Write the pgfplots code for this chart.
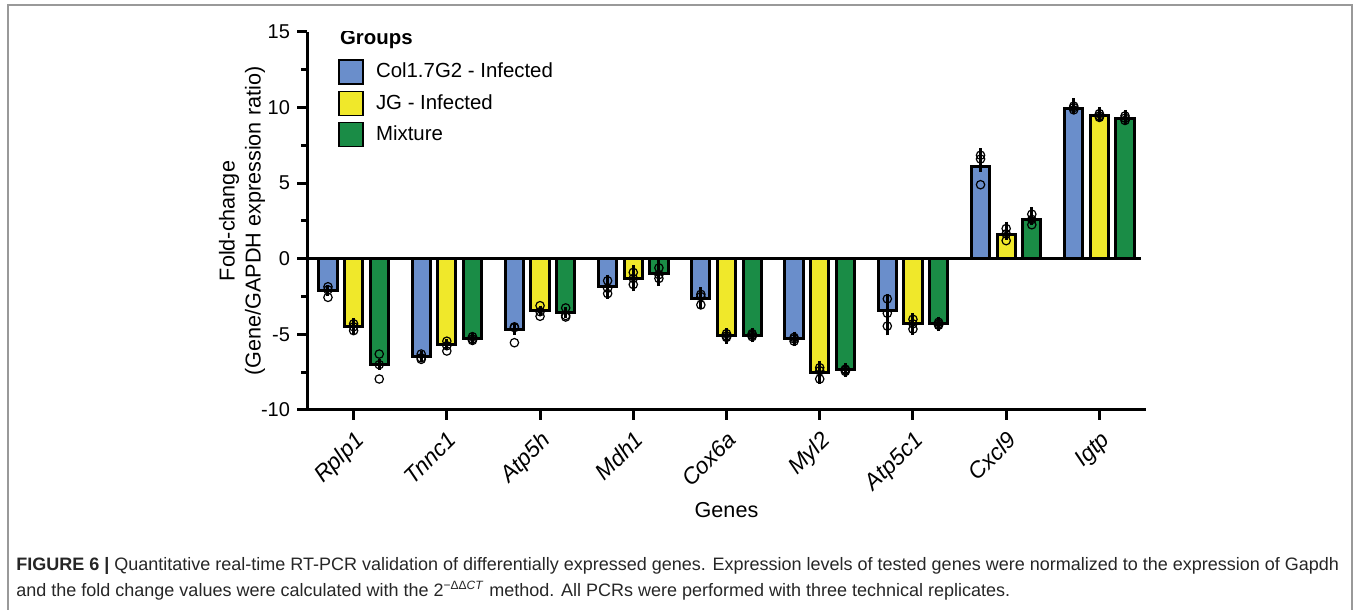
\documentclass[border=0pt]{standalone}
\usepackage{fontspec}
\setmainfont{Liberation Sans}
\usepackage{pgfplots}
\usepackage{pgfplotstable}
\pgfplotsset{compat=1.18}

\definecolor{cblue}{HTML}{6A8ECB}
\definecolor{cyellow}{HTML}{F0E82A}
\definecolor{cgreen}{HTML}{1A8C46}

% bar means with error (plus / minus)
\pgfplotstableread{
x y ep em
0 -2.10 0 0
1 -6.45 0 0
2 -4.70 0 0
3 -1.85 0.45 0.45
4 -2.60 0.35 0.35
5 -5.30 0.12 0.12
6 -3.40 0.70 1.30
7 6.10 0.85 0
8 9.95 0.30 0
}\colblue
\pgfplotstableread{
x y ep em
0 -4.50 0.20 0.20
1 -5.65 0 0
2 -3.45 0 0
3 -1.30 0.50 0.50
4 -5.10 0.15 0.15
5 -7.50 0.40 0.40
6 -4.30 0.35 0.35
7 1.60 0.50 0
8 9.45 0.20 0
}\jgyellow
\pgfplotstableread{
x y ep em
0 -7.00 0 0
1 -5.25 0 0
2 -3.55 0 0
3 -0.95 0.50 0.50
4 -5.05 0.12 0.12
5 -7.35 0.10 0.10
6 -4.30 0.12 0.12
7 2.60 0.45 0
8 9.30 0.20 0
}\mixgreen

% replicate points
\pgfplotstableread{
x y
0 -1.85
0 -2.05
0 -2.55
1 -6.30
1 -6.55
1 -6.65
2 -4.50
2 -4.55
2 -5.55
3 -1.45
3 -1.95
3 -2.30
4 -2.35
4 -2.50
4 -3.05
5 -5.20
5 -5.30
5 -5.45
6 -2.65
6 -3.60
6 -4.45
7 4.90
7 6.60
7 6.85
8 9.85
8 10.00
8 10.10
}\colbluepts
\pgfplotstableread{
x y
0 -4.30
0 -4.50
0 -4.75
1 -5.45
1 -5.75
1 -6.10
2 -3.10
2 -3.50
2 -3.80
3 -0.90
3 -1.30
3 -1.70
4 -4.95
4 -5.10
4 -5.20
5 -7.20
5 -7.40
5 -7.95
6 -4.00
6 -4.30
6 -4.65
7 1.20
7 1.65
7 2.00
8 9.35
8 9.45
8 9.60
}\jgyellowpts
\pgfplotstableread{
x y
0 -6.30
0 -7.00
0 -7.95
1 -5.15
1 -5.30
1 -5.40
2 -3.25
2 -3.75
2 -3.85
3 -0.60
3 -1.05
3 -1.30
4 -4.95
4 -5.05
4 -5.15
5 -7.30
5 -7.35
5 -7.45
6 -4.20
6 -4.30
6 -4.40
7 2.25
7 2.60
7 2.95
8 9.15
8 9.30
8 9.45
}\mixgreenpts

\pgfplotsset{
  barstyle/.style={ybar, bar width=0.195, bar shift=0pt, draw=black, line width=1.5pt,
    error bars/y dir=both, error bars/y explicit,
    error bars/error bar style={line width=1.5pt, black},
    error bars/error mark options={line width=1.5pt, mark size=2.7pt, black}},
  ptstyle/.style={only marks, mark=o, mark size=2.1pt,
    mark options={line width=0.6pt, draw=black, fill=none}},
}

\begin{document}
\begin{tikzpicture}
\path[use as bounding box] (0,0) rectangle (678.5pt,305pt);
\draw[black!40, line width=0.6pt] (4pt,-2pt) -- (4pt,302.5pt) -- (676pt,302.5pt) -- (676pt,-2pt);

\begin{axis}[
  at={(153.5pt,100pt)}, anchor=south west,
  scale only axis, width=419.5pt, height=189pt,
  xmin=-0.5, xmax=8.5, ymin=-10, ymax=15,
  axis x line*=bottom, axis y line*=left,
  axis line style={line width=1.5pt},
  xtick={0,...,8},
  xticklabels={Rplp1,Tnnc1,Atp5h,Mdh1,Cox6a,Myl2,Atp5c1,Cxcl9,Igtp},
  ytick={-10,-5,0,5,10,15},
  minor ytick={-7.5,-2.5,2.5,7.5,12.5},
  tick align=outside,
  major tick length=5pt, minor tick length=3pt,
  every tick/.style={line width=1.5pt, black},
  tick label style={font=\fontsize{10}{12}\selectfont},
  /pgf/number format/assume math mode=true,
  xticklabel style={rotate=45, anchor=north east, font=\fontsize{11.4}{13}\selectfont\itshape},
  xlabel={Genes},
  xlabel style={at={(axis description cs:0.5,0)}, anchor=center, yshift=-50pt, font=\fontsize{10.8}{13}\selectfont},
  ylabel={Fold-change\\(Gene/GAPDH expression ratio)},
  ylabel style={align=center, at={(axis description cs:-0.0775,0.5)}, anchor=center, font=\fontsize{10.8}{13}\selectfont},
  legend style={at={(0.037,0.9286)}, anchor=north west, draw=none, fill=none,
    inner sep=0pt, row sep=3pt, font=\fontsize{10.2}{12}\selectfont,
    nodes={inner sep=0pt}},
  legend cell align=left,
  legend image code/.code={\draw[#1, draw=black, line width=0.6pt] (0pt,-6pt) rectangle (12pt,6pt);
    \path[draw=none, fill=none] (0pt,0pt) -- (18.5pt,0pt);},
]
\addplot[barstyle, fill=cblue] table[x expr=\thisrow{x}-0.275, y=y, y error plus=ep, y error minus=em] {\colblue};
\addlegendentry{Col1.7G2 - Infected}
\addplot[barstyle, fill=cyellow] table[x expr=\thisrow{x}, y=y, y error plus=ep, y error minus=em] {\jgyellow};
\addlegendentry{JG - Infected}
\addplot[barstyle, fill=cgreen] table[x expr=\thisrow{x}+0.275, y=y, y error plus=ep, y error minus=em] {\mixgreen};
\addlegendentry{Mixture}
\addplot[black, line width=1.5pt, forget plot] coordinates {(-0.5,0) (8.45,0)};
\addplot[ptstyle, forget plot] table[x expr=\thisrow{x}-0.275, y=y] {\colbluepts};
\addplot[ptstyle, forget plot] table[x expr=\thisrow{x}, y=y] {\jgyellowpts};
\addplot[ptstyle, forget plot] table[x expr=\thisrow{x}+0.275, y=y] {\mixgreenpts};
\node[anchor=west, inner sep=0pt, font=\fontsize{10.2}{12}\selectfont\bfseries] at (axis description cs:0.039,0.979) {Groups};
\end{axis}

\node[anchor=base west, align=left, font=\fontsize{9}{13}\selectfont, text=black!85, inner sep=0pt] at (8pt,6.5pt)
{\textbf{FIGURE 6 |} Quantitative real-time RT-PCR validation of differentially expressed genes. Expression levels of tested genes were normalized to the expression of Gapdh\\
and the fold change values were calculated with the 2\textsuperscript{−ΔΔ\textit{CT}} method. All PCRs were performed with three technical replicates.};
\end{tikzpicture}
\end{document}
